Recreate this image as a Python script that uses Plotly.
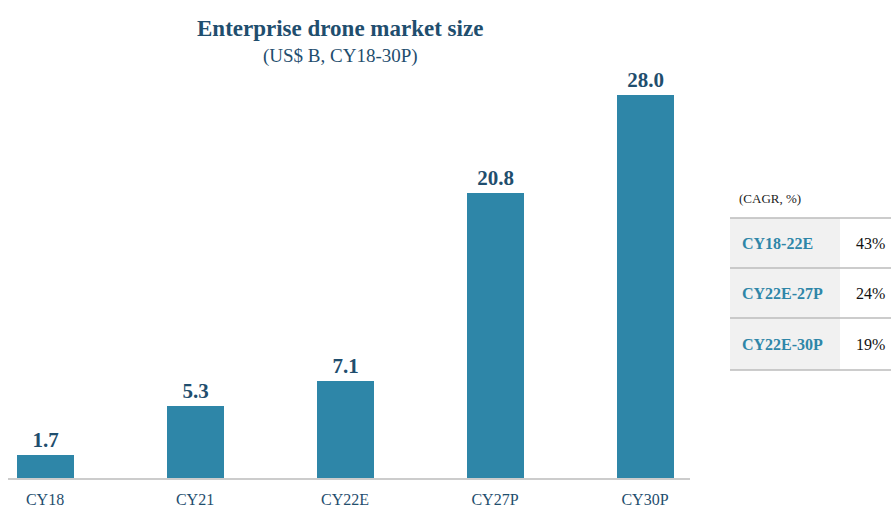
import plotly.graph_objects as go

categories = ["CY18", "CY21", "CY22E", "CY27P", "CY30P"]
values = [1.7, 5.3, 7.1, 20.8, 28.0]
value_labels = ["1.7", "5.3", "7.1", "20.8", "28.0"]

cagr_periods = ["CY18-22E", "CY22E-27P", "CY22E-30P"]
cagr_values = ["43%", "24%", "19%"]

W, H = 891, 510
FONT = "Liberation Serif, Times New Roman, serif"
NAVY = "#1f4e6e"
BAR = "#2e86a8"

def px(x):
    return x / W

def py(y):
    return 1 - y / H

fig = go.Figure()
fig.add_trace(go.Bar(
    x=list(range(len(categories))), y=values,
    text=value_labels, textposition="outside",
    textfont=dict(family=FONT, size=21, color=NAVY, weight="bold"),
    marker=dict(color=BAR, line=dict(width=0)),
    width=0.38, cliponaxis=False, hoverinfo="skip",
))

base_y = 478
top_y = 80
unit = (478 - 95) / 28.0
fig.update_layout(
    width=W, height=H,
    margin=dict(l=0, r=0, t=0, b=0, autoexpand=False),
    paper_bgcolor="white", plot_bgcolor="white",
    showlegend=False, bargap=0,
    font=dict(family=FONT),
    xaxis=dict(
        domain=[px(8), px(690)],
        range=[-0.247, 4.3],
        tickvals=list(range(len(categories))), ticktext=categories,
        tickfont=dict(family=FONT, size=16, color=NAVY),
        showgrid=False, zeroline=False, automargin=False,
        showline=True, linecolor="#cccccc", linewidth=2,
        ticks="outside", ticklen=6, tickcolor="rgba(0,0,0,0)",
    ),
    yaxis=dict(
        domain=[py(base_y), py(top_y)],
        range=[0, (base_y - top_y) / unit],
        visible=False, showgrid=False, zeroline=False, automargin=False,
    ),
)

annotations = [
    dict(text="<b>Enterprise drone market size</b>", x=px(340), y=py(28),
         xref="paper", yref="paper", showarrow=False,
         font=dict(family=FONT, size=23, color=NAVY), xanchor="center", yanchor="middle"),
    dict(text="(US$ B, CY18-30P)", x=px(340), y=py(56),
         xref="paper", yref="paper", showarrow=False,
         font=dict(family=FONT, size=19, color=NAVY), xanchor="center", yanchor="middle"),
    dict(text="(CAGR, %)", x=px(737), y=py(199),
         xref="paper", yref="paper", showarrow=False,
         font=dict(family=FONT, size=13, color="#222222"), xanchor="left", yanchor="middle"),
]

shapes = []
row_tops = [218, 268, 318]
row_h = [50, 50, 52]
shapes.append(dict(type="rect", xref="paper", yref="paper",
                   x0=px(730), x1=px(840), y0=py(370), y1=py(218),
                   fillcolor="#f1f1f1", line=dict(width=0), layer="below"))
for yy in [218, 268, 318, 370]:
    shapes.append(dict(type="line", xref="paper", yref="paper",
                       x0=px(730), x1=1.0, y0=py(yy), y1=py(yy),
                       line=dict(color="#bbbbbb", width=1.5)))
for i, (period, val) in enumerate(zip(cagr_periods, cagr_values)):
    cy = row_tops[i] + row_h[i] / 2
    annotations.append(dict(text=f"<b>{period}</b>", x=px(740), y=py(cy),
                            xref="paper", yref="paper", showarrow=False,
                            font=dict(family=FONT, size=16, color="#2e86a8"),
                            xanchor="left", yanchor="middle"))
    annotations.append(dict(text=val, x=px(887), y=py(cy),
                            xref="paper", yref="paper", showarrow=False,
                            font=dict(family=FONT, size=16, color="#111111"),
                            xanchor="right", yanchor="middle"))

fig.update_layout(annotations=annotations, shapes=shapes)
fig.write_html(
    "out.html",
    config={"displayModeBar": False},
    post_script="document.body.style.margin='0';document.body.style.overflow='hidden';",
)
